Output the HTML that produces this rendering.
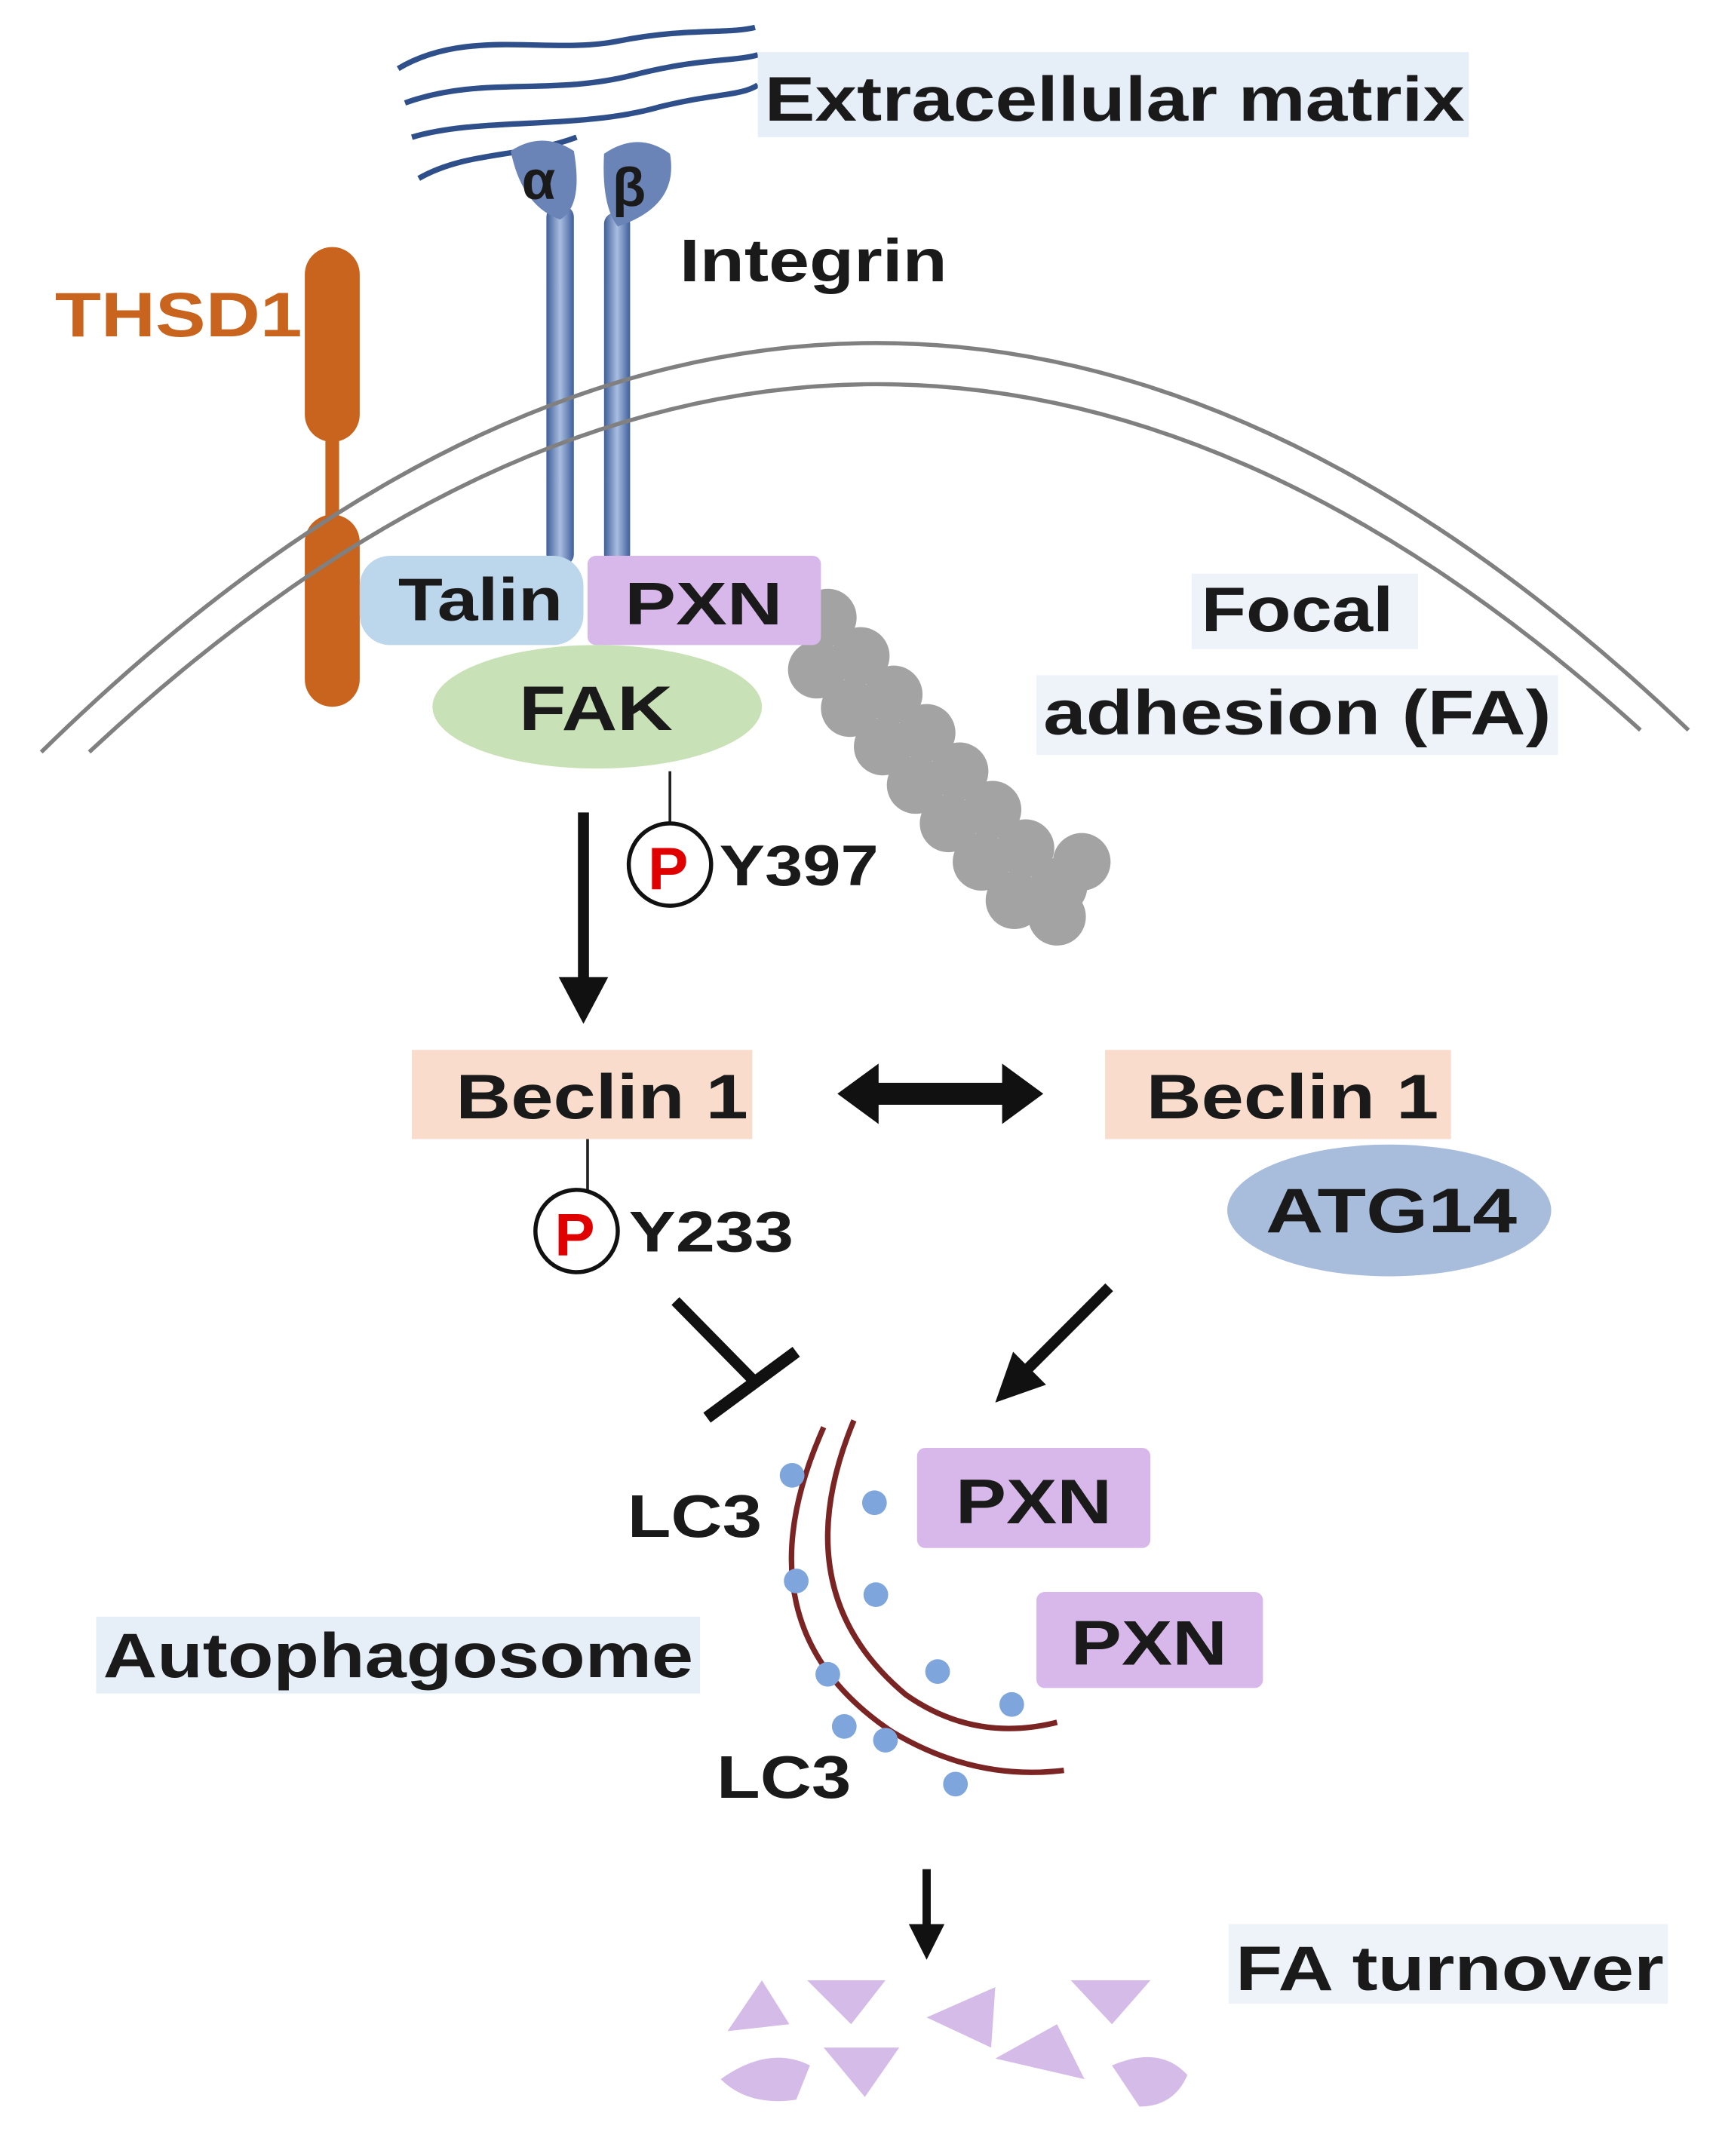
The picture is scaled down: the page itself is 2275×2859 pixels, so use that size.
<!DOCTYPE html>
<html><head><meta charset="utf-8"><style>
html,body{margin:0;padding:0;background:#fff}
svg{display:block}
text{font-family:"Liberation Sans",Arial,sans-serif;font-weight:bold;fill:#1a1a1a}
</style></head><body>
<svg width="2275" height="2859" viewBox="0 0 1250 1571" xmlns="http://www.w3.org/2000/svg">
<defs>
<linearGradient id="ig" x1="0" x2="1" y1="0" y2="0">
<stop offset="0" stop-color="#3f5f9a"/><stop offset="0.5" stop-color="#a9bde0"/><stop offset="1" stop-color="#3f5f9a"/>
</linearGradient>
</defs>
<!-- ECM -->
<g fill="none" stroke="#2f4f8a" stroke-width="4">
<path d="M290,50 C340,20 400,40 450,30 C500,20 530,25 550,20"/>
<path d="M295,75 C350,55 400,70 460,55 C510,42 535,45 552,40"/>
<path d="M300,100 C350,85 420,95 480,78 C520,68 540,70 552,62"/>
<path d="M305,130 C340,110 380,115 420,100"/>
</g>
<rect x="552" y="38" width="518" height="62" fill="#e6eef7"/>
<text x="557" y="88" font-size="46" textLength="510" lengthAdjust="spacingAndGlyphs">Extracellular  matrix</text>
<!-- integrin -->
<rect x="398" y="150" width="20" height="262" rx="8" fill="url(#ig)"/>
<rect x="440" y="155" width="19" height="257" rx="8" fill="url(#ig)"/>
<path d="M372,110 Q395,95 418,110 Q425,150 408,160 Q380,150 372,110z" fill="#6a84b8"/>
<path d="M440,112 Q465,95 488,112 Q495,150 450,165 Q438,150 440,112z" fill="#6a84b8"/>
<text x="380" y="145" font-size="40">α</text>
<text x="446" y="150" font-size="40">β</text>
<text x="495" y="205" font-size="44" textLength="195" lengthAdjust="spacingAndGlyphs">Integrin</text>
<!-- THSD1 -->
<text x="40" y="245" font-size="46" textLength="180" lengthAdjust="spacingAndGlyphs" style="fill:#c8641e">THSD1</text>
<rect x="222" y="180" width="40" height="142" rx="20" fill="#c8641e"/>
<rect x="237" y="315" width="10" height="70" fill="#c8641e"/>
<rect x="222" y="375" width="40" height="140" rx="20" fill="#c8641e"/>
<!-- membrane -->
<path d="M30,548 Q630,-40 1230,532" fill="none" stroke="#808080" stroke-width="3"/>
<path d="M65,548 Q630,20 1195,532" fill="none" stroke="#808080" stroke-width="3"/>
<!-- gray chain -->
<g fill="#a3a3a3">
<circle cx="603" cy="450" r="21"/><circle cx="627" cy="478" r="21"/><circle cx="651" cy="506" r="21"/><circle cx="675" cy="534" r="21"/><circle cx="699" cy="562" r="21"/><circle cx="723" cy="590" r="21"/><circle cx="747" cy="618" r="21"/><circle cx="771" cy="646" r="21"/>
<circle cx="595" cy="488" r="21"/><circle cx="619" cy="516" r="21"/><circle cx="643" cy="544" r="21"/><circle cx="667" cy="572" r="21"/><circle cx="691" cy="600" r="21"/><circle cx="715" cy="628" r="21"/><circle cx="739" cy="656" r="21"/><circle cx="770" cy="668" r="21"/><circle cx="788" cy="628" r="21"/>
</g>
<!-- Talin/PXN/FAK -->
<rect x="262" y="405" width="163" height="65" rx="22" fill="#bcd6ec"/>
<text x="290" y="452" font-size="44" textLength="120" lengthAdjust="spacingAndGlyphs">Talin</text>
<rect x="428" y="405" width="170" height="65" rx="6" fill="#d8b8ea"/>
<text x="455" y="455" font-size="44" textLength="115" lengthAdjust="spacingAndGlyphs">PXN</text>
<ellipse cx="435" cy="515" rx="120" ry="45" fill="#c9e1b6"/>
<text x="378" y="532" font-size="46" textLength="112" lengthAdjust="spacingAndGlyphs">FAK</text>
<!-- Focal adhesion -->
<rect x="868" y="418" width="165" height="55" fill="#eef3f9"/>
<text x="875" y="460" font-size="46" textLength="140" lengthAdjust="spacingAndGlyphs">Focal</text>
<rect x="755" y="492" width="380" height="58" fill="#eef3f9"/>
<text x="760" y="535" font-size="46" textLength="370" lengthAdjust="spacingAndGlyphs">adhesion  (FA)</text>
<!-- P Y397 -->
<line x1="488" y1="562" x2="488" y2="600" stroke="#222" stroke-width="2"/>
<circle cx="488" cy="630" r="30" fill="#fff" stroke="#111" stroke-width="3"/>
<text x="472" y="648" font-size="44" style="fill:#e00000">P</text>
<text x="524" y="645" font-size="42" textLength="116" lengthAdjust="spacingAndGlyphs">Y397</text>
<!-- arrow down -->
<line x1="425" y1="592" x2="425" y2="715" stroke="#111" stroke-width="8"/>
<path d="M407,712 L443,712 L425,746z" fill="#111"/>
<!-- Beclin -->
<rect x="300" y="765" width="248" height="65" fill="#f9dccb"/>
<text x="332" y="815" font-size="46" textLength="213" lengthAdjust="spacingAndGlyphs">Beclin  1</text>
<rect x="805" y="765" width="252" height="65" fill="#f9dccb"/>
<text x="835" y="815" font-size="46" textLength="213" lengthAdjust="spacingAndGlyphs">Beclin  1</text>
<path d="M610,797 L640,775 L640,789 L730,789 L730,775 L760,797 L730,819 L730,805 L640,805 L640,819z" fill="#111"/>
<ellipse cx="1012" cy="882" rx="118" ry="48" fill="#a8bcdc"/>
<text x="922" y="898" font-size="46" textLength="183" lengthAdjust="spacingAndGlyphs">ATG14</text>
<!-- P Y233 -->
<line x1="428" y1="830" x2="428" y2="868" stroke="#222" stroke-width="2"/>
<circle cx="420" cy="897" r="30" fill="#fff" stroke="#111" stroke-width="3"/>
<text x="404" y="915" font-size="44" style="fill:#e00000">P</text>
<text x="458" y="912" font-size="42" textLength="120" lengthAdjust="spacingAndGlyphs">Y233</text>
<!-- inhibition -->
<line x1="492" y1="948" x2="548" y2="1005" stroke="#111" stroke-width="8"/>
<line x1="515" y1="1033" x2="580" y2="985" stroke="#111" stroke-width="9"/>
<!-- arrow -->
<line x1="808" y1="938" x2="748" y2="998" stroke="#111" stroke-width="8"/>
<path d="M725,1022 L738,985 L762,1009z" fill="#111"/>
<!-- autophagosome -->
<path d="M622,1035 Q570,1160 660,1235 Q710,1270 770,1255" fill="none" stroke="#7a2424" stroke-width="4"/>
<path d="M600,1040 Q535,1185 650,1262 Q710,1298 775,1290" fill="none" stroke="#7a2424" stroke-width="4"/>
<g fill="#7fa6dc">
<circle cx="577" cy="1075" r="9"/><circle cx="637" cy="1095" r="9"/><circle cx="580" cy="1152" r="9"/><circle cx="638" cy="1162" r="9"/><circle cx="603" cy="1220" r="9"/><circle cx="683" cy="1218" r="9"/><circle cx="737" cy="1242" r="9"/><circle cx="645" cy="1268" r="9"/><circle cx="696" cy="1300" r="9"/><circle cx="615" cy="1258" r="9"/>
</g>
<text x="457" y="1120" font-size="44" textLength="98" lengthAdjust="spacingAndGlyphs">LC3</text>
<text x="522" y="1310" font-size="44" textLength="98" lengthAdjust="spacingAndGlyphs">LC3</text>
<rect x="70" y="1178" width="440" height="56" fill="#e6eef7"/>
<text x="75" y="1222" font-size="46" textLength="430" lengthAdjust="spacingAndGlyphs">Autophagosome</text>
<rect x="668" y="1055" width="170" height="73" rx="6" fill="#d8b8ea"/>
<text x="696" y="1110" font-size="46" textLength="114" lengthAdjust="spacingAndGlyphs">PXN</text>
<rect x="755" y="1160" width="165" height="70" rx="6" fill="#d8b8ea"/>
<text x="780" y="1213" font-size="46" textLength="114" lengthAdjust="spacingAndGlyphs">PXN</text>
<!-- arrow down 2 -->
<line x1="675" y1="1362" x2="675" y2="1405" stroke="#111" stroke-width="6"/>
<path d="M662,1402 L688,1402 L675,1428z" fill="#111"/>
<rect x="895" y="1402" width="320" height="58" fill="#eef3f9"/>
<text x="900" y="1450" font-size="46" textLength="312" lengthAdjust="spacingAndGlyphs">FA turnover</text>
<!-- fragments -->
<g fill="#d4bbe8">
<path d="M530,1480 L555,1443 L575,1475z"/>
<path d="M588,1443 L645,1443 L620,1475z"/>
<path d="M675,1470 L725,1448 L722,1492z"/>
<path d="M780,1443 L838,1443 L810,1475z"/>
<path d="M725,1500 L770,1475 L790,1515z"/>
<path d="M600,1492 L655,1492 L630,1528z"/>
<path d="M525,1515 Q560,1490 590,1505 L580,1530 Q545,1535 525,1515z"/>
<path d="M810,1505 Q845,1490 865,1512 Q855,1535 830,1535z"/>
</g>
</svg>
</body></html>
